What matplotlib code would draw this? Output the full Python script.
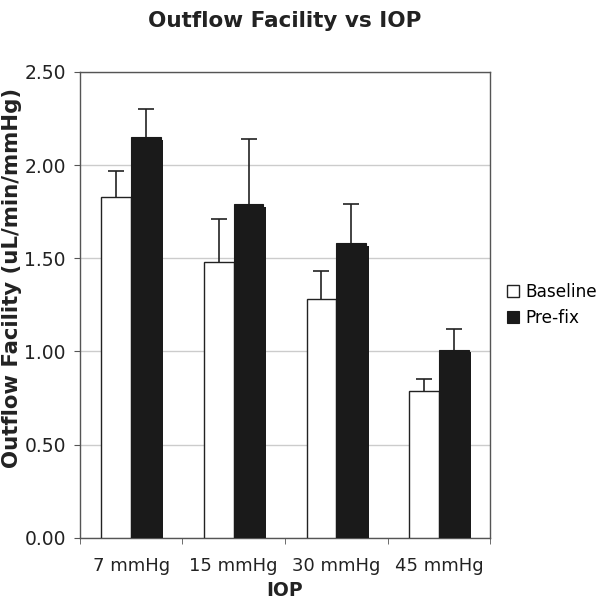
import matplotlib
matplotlib.use("Agg")
import matplotlib.pyplot as plt
import numpy as np

categorias = ["7 mmHg", "15 mmHg", "30 mmHg", "45 mmHg"]
baseline = [1.83, 1.48, 1.28, 0.79]
baseline_err = [0.14, 0.23, 0.15, 0.06]
prefix = [2.15, 1.79, 1.58, 1.01]
prefix_err = [0.15, 0.35, 0.21, 0.11]

fig = plt.figure(figsize=(6.0, 5.99), dpi=100)
ax = fig.add_axes([0.133, 0.102, 0.684, 0.778])

x = np.arange(len(categorias))
w = 0.29
ek = dict(ecolor="#222222", elinewidth=1.2, capsize=6, capthick=1.2)
# barras de error simetricas detras de las barras: solo se ve la mitad superior
ax.errorbar(x - w / 2, baseline, yerr=baseline_err, fmt="none", zorder=2, **ek)
ax.errorbar(x + w / 2, prefix, yerr=prefix_err, fmt="none", zorder=2, **ek)
ax.bar(x - w / 2, baseline, w, color="white", edgecolor="#222222", linewidth=1.0,
       label="Baseline", zorder=3)
# sombra del bar negro
ax.bar(x + w / 2 + 0.025, np.array(prefix) - 0.015, w, color="#1a1a1a", linewidth=0, zorder=3)
ax.bar(x + w / 2, prefix, w, color="#1a1a1a", edgecolor="#1a1a1a", linewidth=0.8,
       label="Pre-fix", zorder=3)

ax.set_xlim(-0.5, len(categorias) - 0.5)
ax.set_ylim(0, 2.5)
ax.set_yticks(np.arange(0, 2.51, 0.5))
ax.set_yticklabels([f"{v:.2f}" for v in np.arange(0, 2.51, 0.5)], fontsize=13.5, color="#222222")
ax.yaxis.grid(True, color="#cccccc", lw=1)
ax.set_axisbelow(True)
ax.set_xticks(x)
ax.set_xticklabels(categorias, fontsize=13, color="#222222")
ax.tick_params(axis="x", length=0, pad=14)
ax.set_xticks(np.arange(-0.5, len(categorias)), minor=True)
ax.tick_params(axis="x", which="minor", length=4, color="#555555")
ax.tick_params(axis="y", length=4, color="#555555", pad=6)
for s in ax.spines.values():
    s.set_color("#555555")
    s.set_linewidth(1.0)

ax.set_title("Outflow Facility vs IOP", fontsize=15.5, fontweight="bold", pad=32, color="#222222")
ax.set_xlabel("IOP", fontsize=13.5, fontweight="bold", color="#222222", labelpad=4)
fig.text(12 / 600, 1 - 278 / 599, "Outflow Facility (uL/min/mmHg)", rotation=90,
         ha="center", va="center", fontsize=15.3, fontweight="bold", color="#222222")

ax.legend(loc="center left", bbox_to_anchor=(1.0, 0.5), frameon=False, fontsize=12.2,
          handlelength=0.7, handleheight=0.7, handletextpad=0.4, labelspacing=0.5,
          borderaxespad=0.6)

fig.savefig("out.png", dpi=100)
